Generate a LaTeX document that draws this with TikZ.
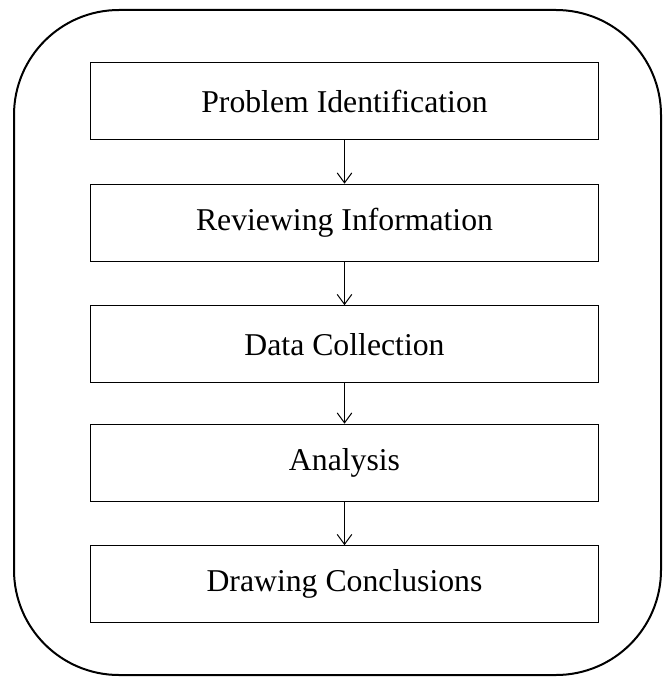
\documentclass[tikz,border=0pt]{standalone}
\usepackage{fontspec}
\setmainfont{Liberation Serif}
\usepackage{tikz}
\usetikzlibrary{arrows.meta}

\tikzset{
  stagebox/.style={draw, line width=0.75pt, minimum width=380.6pt, minimum height=57.75pt, inner sep=0pt, font=\fontsize{23.8}{28}\selectfont},
  flowarrow/.style={draw, line width=0.75pt, -{Straight Barb[length=7.5pt,width=11pt]}}
}

\begin{document}
\begin{tikzpicture}[x=0.75pt,y=0.75pt,yscale=-1,xscale=1]
\useasboundingbox (0,0) rectangle (663,677);

%Rounded Rect: outer frame
\draw [line width=1.5pt, rounded corners=78.75pt] (14,10) rectangle (661,675) ;

% Text Node
\node [stagebox] (problem) at (344.5,101) {Problem Identification};
% Text Node
\node [stagebox] (review) at (344.5,222.7) {Reviewing Information};
% Text Node
\node [stagebox] (collect) at (344.5,344.2) {Data Collection};
% Text Node
\node [stagebox] (analysis) at (344.5,462.7) {Analysis};
% Text Node
\node [stagebox] (conclude) at (344.5,584.2) {Drawing Conclusions};

%Straight Lines
\draw [flowarrow] (problem) -- (review) ;
\draw [flowarrow] (review) -- (collect) ;
\draw [flowarrow] (collect) -- (analysis) ;
\draw [flowarrow] (analysis) -- (conclude) ;

\end{tikzpicture}
\end{document}
